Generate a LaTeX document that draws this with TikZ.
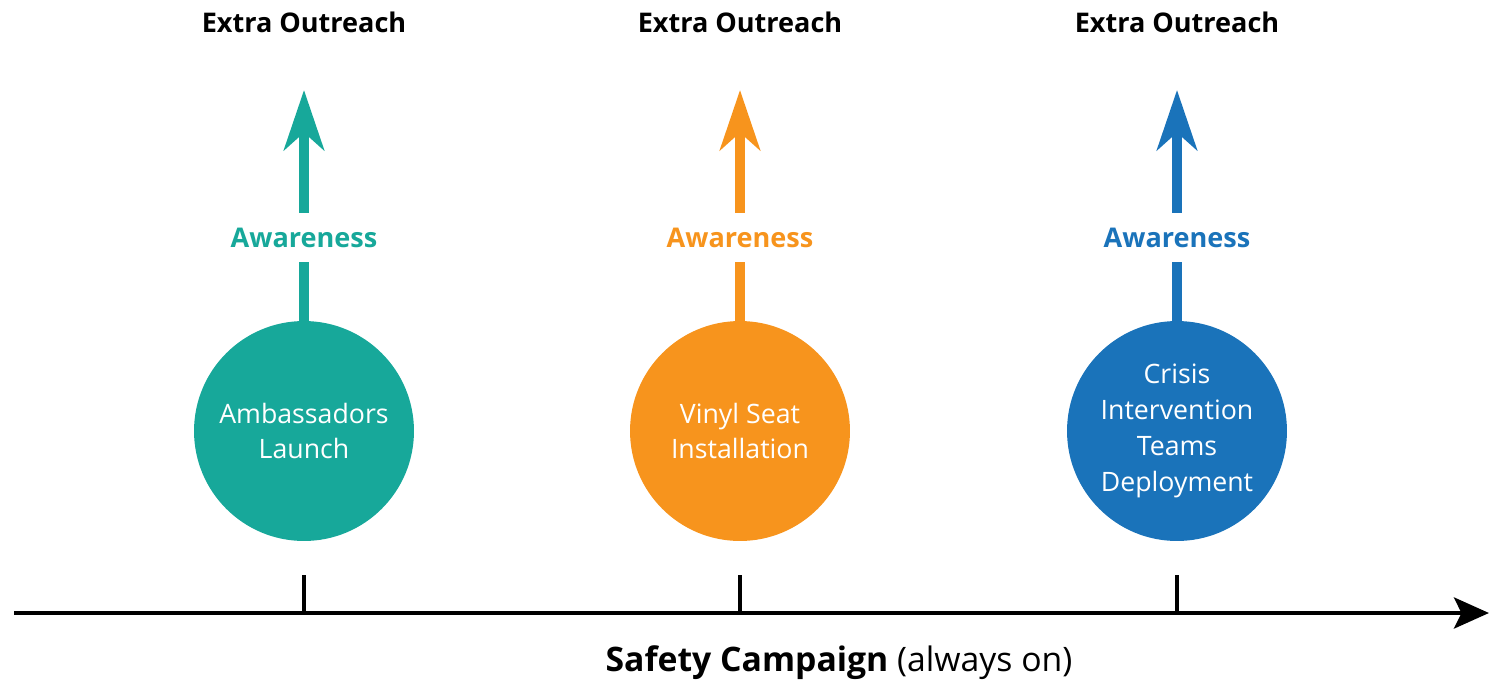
\documentclass[tikz,border=0pt]{standalone}
\usepackage{fontspec}
\setmainfont{Open Sans}
\usetikzlibrary{arrows.meta}
\definecolor{campteal}{HTML}{17A89A}
\definecolor{camporange}{HTML}{F7941D}
\definecolor{campblue}{HTML}{1A73BA}

\begin{document}
\begin{tikzpicture}[x=0.02cm, y=-0.02cm,
  event/.style = {circle, minimum size=4.4cm, inner sep=0pt, text=white, align=center, font=\fontsize{15.2}{20.4}\selectfont},
  extra/.style = {font=\fontsize{15.4}{17}\selectfont\bfseries},
  aware/.style = {fill=white, inner xsep=2pt, inner ysep=0.3cm, font=\fontsize{15.4}{17}\selectfont\bfseries},
  lift/.style = {line width=5.7pt, -{Stealth[length=1.2cm, width=0.8cm, inset=0.35cm]}},
  tick/.style = {line width=2pt}]
	\useasboundingbox (0,0) rectangle (1489,697);
	% events on the campaign line
	\node[event, fill=campteal] (A) at (304, 431){Ambassadors\\Launch};
	\node[event, fill=camporange] (B) at (740, 431){Vinyl Seat\\Installation};
	\node[event, fill=campblue] (C) at (1177, 431){Crisis\\Intervention\\Teams\\Deployment};
	\node[extra] (EA) at (304, 22){Extra Outreach};
	\node[extra] (EB) at (740, 22){Extra Outreach};
	\node[extra] (EC) at (1177, 22){Extra Outreach};
	\coordinate (TA) at (304, 90);
	\coordinate (TB) at (740, 90);
	\coordinate (TC) at (1177, 90);
	\draw[lift, campteal] (A.north) -- node[aware, pos=0.36]{Awareness} (TA);
	\draw[lift, camporange] (B.north) -- node[aware, pos=0.36]{Awareness} (TB);
	\draw[lift, campblue] (C.north) -- node[aware, pos=0.36]{Awareness} (TC);
	% axis
	\coordinate (S) at (14, 613);
	\coordinate (T) at (1489, 613);
	\draw[line width=2.8pt, -{Stealth[length=0.7cm, width=0.62cm, inset=0.15cm]}] (S) -- (T);
	\coordinate (KA) at (304, 575);
	\coordinate (KB) at (740, 575);
	\coordinate (KC) at (1177, 575);
	\draw[tick] (KA) -- (304, 613);
	\draw[tick] (KB) -- (740, 613);
	\draw[tick] (KC) -- (1177, 613);
	\node[font=\fontsize{19.2}{22}\selectfont] (L) at (839, 663){\textbf{Safety Campaign} (always on)};
\end{tikzpicture}
\end{document}
